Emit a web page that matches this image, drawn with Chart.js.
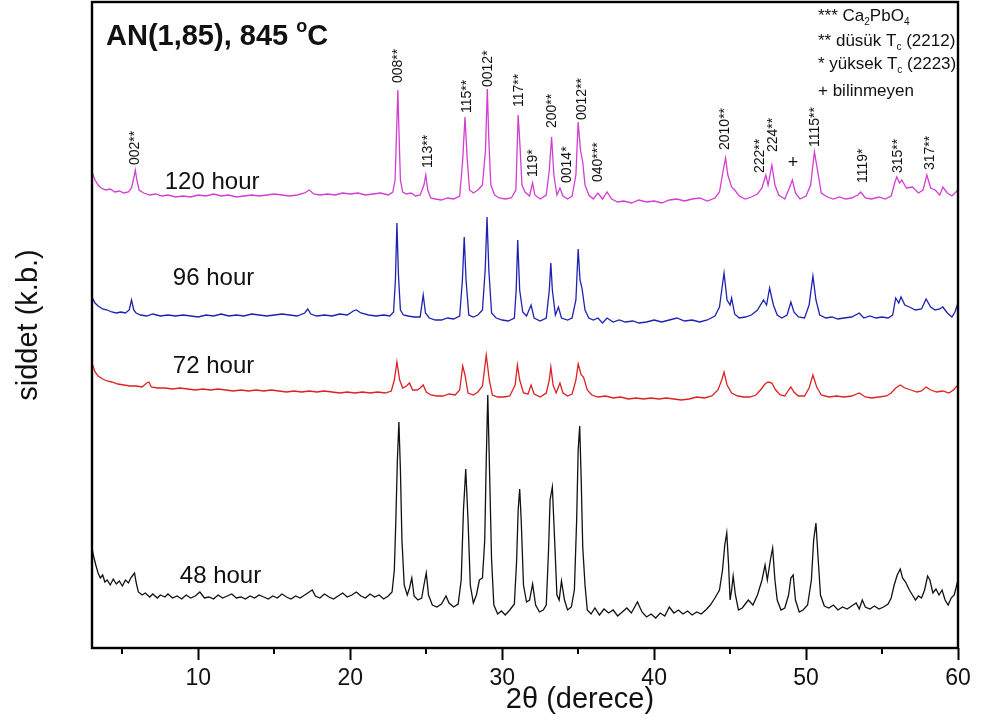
<!DOCTYPE html>
<html><head><meta charset="utf-8">
<script src="https://cdn.jsdelivr.net/npm/chart.js@4.4.1/dist/chart.umd.min.js"></script>
<style>html,body{margin:0;padding:0;background:#fff;}#wrap{width:982px;height:724px;}</style>
</head><body><div id="wrap"><canvas id="c" width="982" height="724"></canvas></div>
<script>
// 2θ (derece), siddet (k.b., stacked as plotted)
const h120 = [[3.0,476],[3.2,468],[3.4,463],[3.6,460],[3.9,458],[4.2,459],[4.5,456],[4.8,457],[5.1,455],[5.4,456],[5.6,460],[5.75,470],[5.85,478],[5.95,468],[6.1,458],[6.4,455],[6.8,453],[7.2,454],[7.6,452],[8.0,453],[8.5,451],[9.0,452],[9.5,451],[10,453],[10.5,452],[11,454],[11.5,452],[12,453],[12.5,451],[13,452],[13.5,453],[14,452],[14.5,453],[15,454],[15.5,453],[16,452],[16.5,453],[17.0,455],[17.3,458],[17.6,454],[18,453],[18.5,454],[19,453],[19.5,455],[20,454],[20.5,455],[21,453],[21.5,454],[22,455],[22.5,453],[22.8,456],[22.95,468],[23.05,518],[23.13,558],[23.2,518],[23.3,468],[23.45,456],[23.7,454],[24.0,455],[24.3,452],[24.6,453],[24.85,463],[24.97,473],[25.1,458],[25.3,450],[25.6,449],[26.0,448],[26.4,450],[26.8,449],[27.2,452],[27.4,488],[27.55,531],[27.7,488],[27.85,458],[28.1,455],[28.4,458],[28.7,463],[28.9,498],[29.02,559],[29.12,508],[29.25,463],[29.5,453],[29.8,450],[30.2,449],[30.6,450],[30.9,458],[31.05,533],[31.15,508],[31.3,463],[31.5,456],[31.8,452],[32.0,465],[32.15,453],[32.5,449],[32.9,453],[33.1,478],[33.25,511],[33.4,473],[33.6,453],[33.8,460],[34.0,452],[34.3,449],[34.6,452],[34.85,473],[35.0,526],[35.15,498],[35.3,486],[35.45,463],[35.7,453],[36.0,449],[36.3,455],[36.6,449],[36.9,456],[37.2,449],[37.6,446],[38.0,447],[38.5,445],[39.0,448],[39.5,446],[40.0,447],[40.5,445],[41.0,448],[41.5,449],[42.0,447],[42.5,449],[43.0,450],[43.5,447],[44.0,450],[44.3,456],[44.55,478],[44.7,490],[44.85,473],[45.1,461],[45.3,458],[45.6,452],[46.0,449],[46.4,451],[46.8,454],[47.1,460],[47.35,473],[47.5,463],[47.75,483],[47.95,463],[48.2,453],[48.6,449],[48.9,460],[49.1,468],[49.3,455],[49.6,449],[50.0,452],[50.3,463],[50.55,496],[50.75,478],[51.0,455],[51.4,451],[51.8,449],[52.2,451],[52.6,449],[53.0,450],[53.4,453],[53.6,456],[53.9,450],[54.3,449],[54.8,451],[55.2,449],[55.6,452],[55.85,466],[55.97,471],[56.15,465],[56.3,468],[56.6,460],[57.0,461],[57.4,455],[57.7,458],[57.95,473],[58.2,460],[58.5,458],[58.8,453],[59.0,461],[59.3,455],[59.6,452],[60.0,458]];

const h96 = [[3.0,351],[3.2,345],[3.4,342],[3.7,339],[4.0,338],[4.3,336],[4.6,335],[4.9,336],[5.2,335],[5.45,338],[5.6,348],[5.75,338],[5.9,335],[6.2,333],[6.6,332],[7.0,334],[7.5,332],[8.0,333],[8.5,332],[9.0,333],[9.5,332],[10,331],[10.5,333],[11,332],[11.5,334],[12,332],[12.5,333],[13,332],[13.5,334],[14,333],[14.5,332],[15,333],[15.5,334],[16,333],[16.5,332],[17.0,335],[17.2,339],[17.4,334],[17.8,332],[18.3,333],[18.8,332],[19.3,334],[19.8,333],[20.2,337],[20.4,338],[20.7,335],[21.2,333],[21.7,332],[22.2,333],[22.6,332],[22.85,336],[22.97,368],[23.07,425],[23.17,373],[23.3,338],[23.5,333],[23.8,332],[24.2,331],[24.6,331],[24.8,353],[24.95,335],[25.2,330],[25.6,328],[26.0,328],[26.4,330],[26.8,329],[27.2,332],[27.38,368],[27.5,411],[27.62,368],[27.8,333],[28.1,331],[28.4,333],[28.7,338],[28.88,378],[29.0,431],[29.12,378],[29.3,335],[29.6,330],[30.0,328],[30.4,327],[30.8,330],[30.92,358],[31.02,408],[31.15,358],[31.35,336],[31.6,332],[31.9,343],[32.1,330],[32.5,327],[32.9,330],[33.1,358],[33.2,385],[33.3,358],[33.5,333],[33.7,341],[33.9,330],[34.3,328],[34.6,330],[34.85,348],[35.0,399],[35.12,368],[35.25,360],[35.45,338],[35.7,330],[36.0,328],[36.3,330],[36.6,325],[36.9,330],[37.3,326],[37.7,328],[38.1,326],[38.6,327],[39.0,325],[39.5,326],[40.0,328],[40.5,326],[41.0,328],[41.5,330],[42.0,327],[42.5,328],[43.0,326],[43.5,328],[44.0,332],[44.3,341],[44.6,375],[44.8,348],[45.0,343],[45.1,350],[45.3,334],[45.6,330],[46.0,331],[46.4,333],[46.8,338],[47.2,348],[47.4,343],[47.6,360],[47.85,343],[48.1,333],[48.4,330],[48.75,333],[49.0,346],[49.2,336],[49.5,331],[49.9,330],[50.2,343],[50.45,372],[50.65,348],[50.9,333],[51.3,330],[51.7,331],[52.1,329],[52.5,330],[53.0,331],[53.5,335],[53.8,330],[54.2,332],[54.6,330],[55.0,331],[55.4,330],[55.7,333],[55.9,350],[56.1,345],[56.25,351],[56.5,343],[56.8,341],[57.2,338],[57.6,339],[57.9,349],[58.2,341],[58.5,338],[58.8,339],[59.0,341],[59.3,335],[59.6,331],[59.8,336],[60.0,345]];

const h72 = [[3.0,285],[3.2,276],[3.4,272],[3.7,269],[4.0,267],[4.3,266],[4.7,264],[5.1,263],[5.5,262],[5.9,262],[6.3,261],[6.6,265],[6.75,266],[6.9,261],[7.3,260],[7.8,260],[8.3,259],[8.8,260],[9.3,259],[9.8,258],[10.3,259],[10.8,258],[11.3,259],[11.8,258],[12.3,257],[12.8,258],[13.3,257],[13.8,258],[14.3,257],[14.8,258],[15.3,257],[15.8,256],[16.3,257],[16.8,256],[17.3,257],[17.8,256],[18.3,257],[18.8,256],[19.3,255],[19.8,256],[20.3,255],[20.8,256],[21.3,255],[21.8,256],[22.3,255],[22.7,257],[22.9,268],[23.07,286],[23.25,268],[23.45,260],[23.7,262],[23.9,265],[24.1,258],[24.4,258],[24.6,260],[24.8,263],[25.0,256],[25.3,253],[25.7,252],[26.1,252],[26.5,254],[26.9,253],[27.2,258],[27.4,282],[27.55,273],[27.75,255],[28.1,253],[28.4,256],[28.7,262],[28.95,293],[29.15,268],[29.35,253],[29.7,251],[30.1,251],[30.5,252],[30.85,263],[31.0,283],[31.15,268],[31.4,255],[31.7,254],[31.9,263],[32.1,254],[32.5,251],[32.9,255],[33.1,268],[33.2,281],[33.35,263],[33.55,255],[33.8,265],[34.0,255],[34.3,252],[34.6,254],[34.85,268],[35.0,284],[35.2,273],[35.35,271],[35.6,258],[35.9,253],[36.3,251],[36.8,252],[37.3,250],[37.8,251],[38.3,249],[38.8,250],[39.3,249],[39.8,250],[40.3,249],[40.8,250],[41.3,249],[41.8,248],[42.3,249],[42.8,251],[43.3,250],[43.8,252],[44.2,258],[44.45,268],[44.6,276],[44.8,263],[45.1,255],[45.5,252],[45.9,251],[46.3,251],[46.7,253],[47.0,258],[47.3,264],[47.5,266],[47.75,265],[48.0,258],[48.3,253],[48.6,252],[48.85,258],[49.0,261],[49.2,256],[49.5,252],[49.9,252],[50.2,260],[50.45,273],[50.7,261],[51.0,253],[51.5,251],[52.0,252],[52.5,251],[53.0,252],[53.5,255],[53.9,251],[54.3,250],[54.8,251],[55.3,252],[55.6,255],[55.9,260],[56.2,263],[56.5,260],[56.9,258],[57.3,256],[57.6,257],[57.9,261],[58.2,258],[58.6,256],[59.0,257],[59.4,255],[59.7,258],[60.0,263]];

const h48 = [[3.0,100],[3.1,92],[3.25,83],[3.4,75],[3.55,70],[3.7,73],[3.85,66],[4.0,68],[4.2,63],[4.4,69],[4.6,64],[4.8,67],[5.0,62],[5.2,68],[5.4,65],[5.55,70],[5.7,73],[5.8,75],[5.9,66],[6.05,56],[6.3,53],[6.5,55],[6.8,51],[7.0,54],[7.3,50],[7.5,53],[7.8,51],[8.0,54],[8.3,50],[8.6,52],[8.9,49],[9.2,53],[9.5,50],[9.8,52],[10.1,56],[10.4,50],[10.7,51],[11.0,49],[11.3,53],[11.6,50],[11.9,52],[12.2,54],[12.5,50],[12.8,51],[13.1,49],[13.4,52],[13.7,50],[14.0,53],[14.3,51],[14.6,49],[14.9,52],[15.2,50],[15.5,54],[15.8,51],[16.1,49],[16.4,52],[16.7,50],[17.0,53],[17.3,56],[17.5,58],[17.7,52],[18.0,50],[18.3,54],[18.6,51],[18.9,49],[19.2,52],[19.5,55],[19.8,51],[20.1,53],[20.4,56],[20.7,52],[21.0,50],[21.3,54],[21.6,51],[21.9,53],[22.2,49],[22.5,52],[22.75,56],[22.9,78],[23.0,128],[23.1,188],[23.2,226],[23.3,178],[23.4,108],[23.55,63],[23.75,53],[23.9,60],[24.05,70],[24.2,52],[24.45,48],[24.7,50],[24.85,63],[25.0,75],[25.15,53],[25.4,43],[25.7,41],[26.0,44],[26.3,52],[26.5,45],[26.8,41],[27.1,44],[27.3,68],[27.45,138],[27.6,179],[27.75,128],[27.9,63],[28.1,45],[28.3,53],[28.5,68],[28.7,70],[28.85,108],[28.95,188],[29.05,253],[29.15,188],[29.3,88],[29.45,43],[29.7,34],[29.95,37],[30.2,33],[30.5,38],[30.8,44],[30.95,88],[31.05,138],[31.15,159],[31.25,128],[31.4,63],[31.6,46],[31.8,48],[32.0,64],[32.2,43],[32.45,36],[32.7,38],[32.9,43],[33.05,98],[33.15,148],[33.3,161],[33.45,108],[33.6,53],[33.75,48],[33.9,67],[34.1,48],[34.3,38],[34.55,41],[34.75,58],[34.9,128],[35.0,198],[35.1,222],[35.2,168],[35.3,101],[35.45,63],[35.6,38],[35.85,34],[36.1,40],[36.4,33],[36.7,39],[37.0,35],[37.3,38],[37.6,32],[37.9,36],[38.2,40],[38.5,35],[38.9,46],[39.2,36],[39.5,31],[39.8,34],[40.1,30],[40.4,35],[40.7,32],[41.0,41],[41.3,35],[41.6,38],[41.9,34],[42.2,37],[42.5,33],[42.8,36],[43.1,34],[43.4,38],[43.7,43],[44.0,50],[44.3,58],[44.5,78],[44.65,103],[44.78,115],[44.9,83],[45.0,48],[45.1,58],[45.2,72],[45.35,53],[45.55,38],[45.8,40],[46.0,44],[46.2,48],[46.5,43],[46.8,53],[47.1,68],[47.3,83],[47.45,68],[47.65,88],[47.8,100],[47.95,68],[48.1,48],[48.35,38],[48.6,40],[48.85,53],[49.0,70],[49.15,73],[49.3,48],[49.55,36],[49.8,38],[50.1,43],[50.35,68],[50.5,108],[50.65,125],[50.8,88],[50.95,53],[51.2,42],[51.5,40],[51.8,43],[52.1,38],[52.4,41],[52.7,39],[53.0,42],[53.3,45],[53.5,39],[53.7,48],[53.9,41],[54.2,39],[54.5,42],[54.8,39],[55.1,41],[55.4,44],[55.6,50],[55.8,63],[56.0,73],[56.2,79],[56.35,70],[56.55,66],[56.8,58],[57.0,53],[57.2,48],[57.4,52],[57.6,50],[57.8,58],[58.0,72],[58.15,68],[58.35,55],[58.55,59],[58.75,53],[58.95,58],[59.15,48],[59.35,43],[59.55,50],[59.75,53],[60.0,68]];

const seriesNames = ['120 hour','96 hour','72 hour','48 hour'];
const seriesColors = ['#d23ed2','#1e22b0','#dc2222','#111111'];
const xTickValues = [10,20,30,40,50,60];
const xMinorTicks = [5,15,25,35,45,55];

// peak indexing: [label, 2θ, anchor siddet]
const peakLabels = [['002**',5.82,483],['008**',23.13,565],['113**',25.11,480],['115**',27.68,535],['0012*',29.06,561],['117**',31.1,541],['119*',32.02,471],['200**',33.27,520],['0014*',34.26,465],['0012**',35.25,528],['040***',36.3,466],['2010**',44.66,498],['222**',46.96,475],['224**',47.82,496],['1115**',50.58,501],['1119*',53.74,465],['315**',56.05,475],['317**',58.16,478]];
const plusMarks = [[49.14,485]];
// hour labels: [text, 2θ, siddet baseline]
const hourLabels = [['120 hour',7.79,459],['96 hour',8.32,363],['72 hour',8.32,275],['48 hour',8.78,65]];

const FONT = "'Liberation Sans', Arial, Helvetica, sans-serif";

function drawRich(ctx, parts, x, y) {
  let cx = x;
  for (const p of parts) {
    ctx.font = (p.bold ? 'bold ' : '') + p.size + 'px ' + FONT;
    ctx.fillText(p.t, cx, y + (p.dy || 0));
    cx += ctx.measureText(p.t).width;
  }
}

const decor = {
  id: 'decor',
  afterDraw(chart) {
    const {ctx, chartArea: a, scales: {x, y}} = chart;
    ctx.save();
    // frame
    ctx.strokeStyle = '#000'; ctx.lineWidth = 2.4;
    ctx.strokeRect(a.left, a.top, a.right - a.left, a.bottom - a.top);
    // minor ticks
    ctx.lineWidth = 2;
    ctx.beginPath();
    for (const v of xMinorTicks) { const px = Math.round(x.getPixelForValue(v)); ctx.moveTo(px, a.bottom); ctx.lineTo(px, a.bottom + 6); }
    ctx.stroke();
    ctx.fillStyle = '#111';
    ctx.textBaseline = 'alphabetic'; ctx.textAlign = 'left';
    // title
    drawRich(ctx, [{t:'AN(1,85), 845 ', size:29, bold:true},{t:'o', size:18, bold:true, dy:-13},{t:'C', size:29, bold:true}], a.left + 14, a.top + 43);
    // key
    const kx = 818;
    drawRich(ctx, [{t:'*** Ca',size:17},{t:'2',size:10,dy:4},{t:'PbO',size:17},{t:'4',size:10,dy:4}], kx, 21);
    drawRich(ctx, [{t:'** düsük T',size:17},{t:'c',size:10,dy:4},{t:' (2212)',size:17}], kx, 46);
    drawRich(ctx, [{t:'* yüksek T',size:17},{t:'c',size:10,dy:4},{t:' (2223)',size:17}], kx, 69);
    drawRich(ctx, [{t:'+ bilinmeyen',size:17}], kx, 96);
    // hour labels
    ctx.font = '24px ' + FONT;
    for (const [t, xv, yv] of hourLabels) ctx.fillText(t, x.getPixelForValue(xv), y.getPixelForValue(yv));
    // peak labels
    ctx.font = '14px ' + FONT; ctx.textBaseline = 'middle';
    for (const [t, xv, yv] of peakLabels) {
      ctx.save(); ctx.translate(x.getPixelForValue(xv), y.getPixelForValue(yv)); ctx.rotate(-Math.PI/2);
      ctx.fillText(t, 0, 0); ctx.restore();
    }
    ctx.font = '18px ' + FONT; ctx.textAlign = 'center';
    for (const [xv, yv] of plusMarks) ctx.fillText('+', x.getPixelForValue(xv), y.getPixelForValue(yv));
    // axis titles
    ctx.font = '29px ' + FONT; ctx.textBaseline = 'middle';
    ctx.fillText('2θ (derece)', 580, 700);
    ctx.save(); ctx.translate(29, (a.top + a.bottom) / 2); ctx.rotate(-Math.PI/2);
    ctx.fillText('siddet (k.b.)', 0, 0); ctx.restore();
    ctx.restore();
  }
};

const allSeries = [h120, h96, h72, h48];
new Chart(document.getElementById('c'), {
  type: 'line',
  data: {
    datasets: allSeries.map((d, i) => ({
      label: seriesNames[i], data: d, borderColor: seriesColors[i], borderWidth: 1.3,
      pointRadius: 0, tension: 0, fill: false
    }))
  },
  options: {
    responsive: false, animation: false, devicePixelRatio: 1,
    layout: {padding: {left: 92, right: 24, top: 2, bottom: 0}},
    plugins: {legend: {display: false}, tooltip: {enabled: false}},
    scales: {
      x: {
        type: 'linear', min: 3, max: 60,
        afterBuildTicks: s => { s.ticks = xTickValues.map(v => ({value: v})); },
        afterFit: s => { s.height = 76; },
        border: {display: false},
        grid: {drawOnChartArea: false, drawTicks: true, tickLength: 12, tickWidth: 2, tickColor: '#000'},
        ticks: {autoSkip: false, maxRotation: 0, padding: 5, color: '#111', font: {family: FONT, size: 23}}
      },
      y: {type: 'linear', min: 0, max: 646, display: false}
    }
  },
  plugins: [decor]
});
</script></body></html>
